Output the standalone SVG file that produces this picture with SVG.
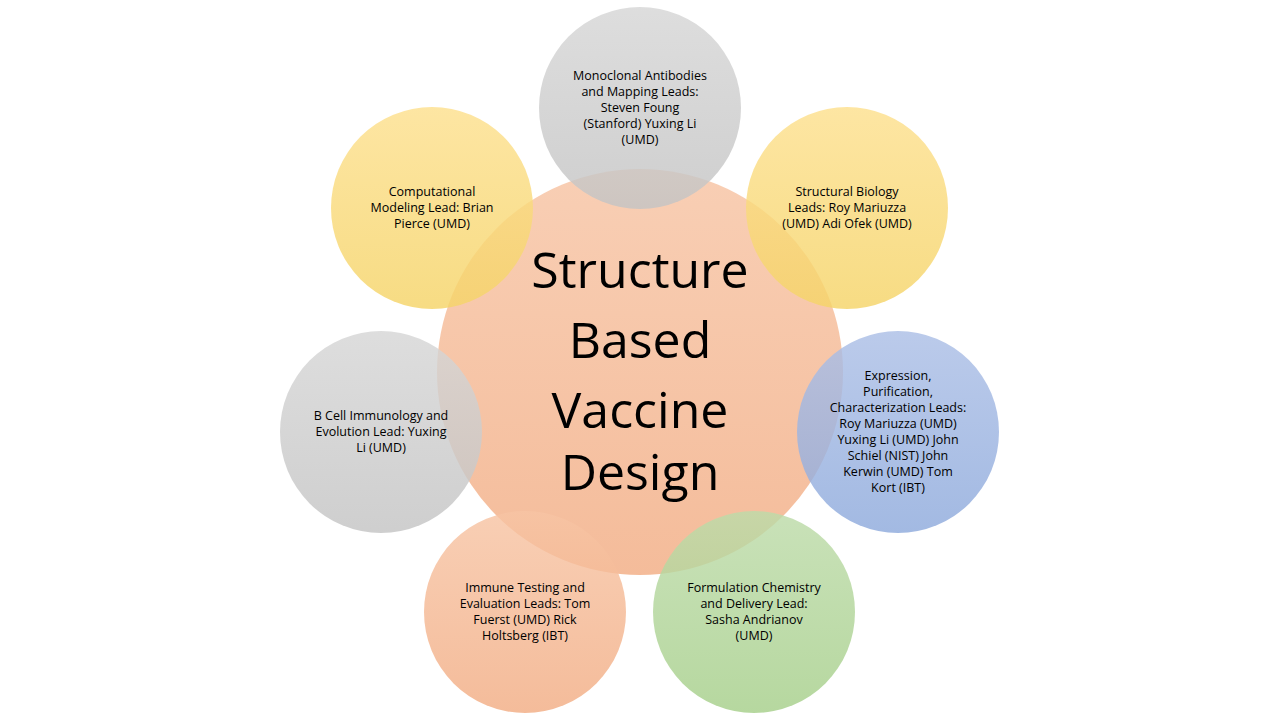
<svg xmlns="http://www.w3.org/2000/svg" width="1280" height="720" viewBox="0 0 1280 720">
<defs>
<linearGradient id="gGray" x1="0" y1="0" x2="0" y2="1"><stop offset="0" stop-color="#d6d6d6"/><stop offset="1" stop-color="#c4c4c4"/></linearGradient>
<linearGradient id="gYel" x1="0" y1="0" x2="0" y2="1"><stop offset="0" stop-color="#fde08e"/><stop offset="1" stop-color="#f5d468"/></linearGradient>
<linearGradient id="gBlue" x1="0" y1="0" x2="0" y2="1"><stop offset="0" stop-color="#acbfe6"/><stop offset="1" stop-color="#8eaadc"/></linearGradient>
<linearGradient id="gGreen" x1="0" y1="0" x2="0" y2="1"><stop offset="0" stop-color="#bddba9"/><stop offset="1" stop-color="#a6cf8a"/></linearGradient>
<linearGradient id="gOr" x1="0" y1="0" x2="0" y2="1"><stop offset="0" stop-color="#f7c4a4"/><stop offset="1" stop-color="#f2ad84"/></linearGradient>
</defs>
<style>
circle{fill-opacity:0.82}
.t{font-family:"Open Sans","Liberation Sans",sans-serif;font-size:12.5px;fill:#000;text-anchor:middle}
.c{font-family:"Open Sans","Liberation Sans",sans-serif;font-size:50px;fill:#000;text-anchor:middle}
</style>
<rect width="1280" height="720" fill="#fff"/>
<g id="center"><circle cx="640" cy="372" r="203" fill="url(#gOr)"/></g>
<g id="n1"><circle cx="640" cy="108" r="101" fill="url(#gGray)"/>
<text class="t"><tspan x="640" y="80">Monoclonal Antibodies</tspan><tspan x="640" y="96">and Mapping Leads:</tspan><tspan x="640" y="112">Steven Foung</tspan><tspan x="640" y="128">(Stanford) Yuxing Li</tspan><tspan x="640" y="144">(UMD)</tspan></text></g>
<g id="n2"><circle cx="847" cy="208" r="101" fill="url(#gYel)"/>
<text class="t"><tspan x="847" y="196">Structural Biology</tspan><tspan x="847" y="212">Leads: Roy Mariuzza</tspan><tspan x="847" y="228">(UMD) Adi Ofek (UMD)</tspan></text></g>
<g id="n3"><circle cx="898" cy="432" r="101" fill="url(#gBlue)"/>
<text class="t"><tspan x="898" y="380">Expression,</tspan><tspan x="898" y="396">Purification,</tspan><tspan x="898" y="412">Characterization Leads:</tspan><tspan x="898" y="428">Roy Mariuzza (UMD)</tspan><tspan x="898" y="444">Yuxing Li (UMD)  John</tspan><tspan x="898" y="460">Schiel (NIST) John</tspan><tspan x="898" y="476">Kerwin (UMD) Tom</tspan><tspan x="898" y="492">Kort (IBT)</tspan></text></g>
<g id="n4"><circle cx="754" cy="612" r="101" fill="url(#gGreen)"/>
<text class="t"><tspan x="754" y="592">Formulation Chemistry</tspan><tspan x="754" y="608">and Delivery Lead:</tspan><tspan x="754" y="624">Sasha Andrianov</tspan><tspan x="754" y="640">(UMD)</tspan></text></g>
<g id="n5"><circle cx="525" cy="612" r="101" fill="url(#gOr)"/>
<text class="t"><tspan x="525" y="592">Immune Testing and</tspan><tspan x="525" y="608">Evaluation Leads: Tom</tspan><tspan x="525" y="624">Fuerst (UMD) Rick</tspan><tspan x="525" y="640">Holtsberg (IBT)</tspan></text></g>
<g id="n6"><circle cx="381" cy="432" r="101" fill="url(#gGray)"/>
<text class="t"><tspan x="381" y="420">B Cell Immunology and</tspan><tspan x="381" y="436">Evolution Lead:  Yuxing</tspan><tspan x="381" y="452">Li (UMD)</tspan></text></g>
<g id="n7"><circle cx="432" cy="208" r="101" fill="url(#gYel)"/>
<text class="t"><tspan x="432" y="196">Computational</tspan><tspan x="432" y="212">Modeling Lead:  Brian</tspan><tspan x="432" y="228">Pierce (UMD)</tspan></text></g>
<g id="centerText"><text class="c"><tspan x="640" y="288">Structure</tspan><tspan x="640" y="358">Based</tspan><tspan x="640" y="428">Vaccine</tspan><tspan x="640" y="490">Design</tspan></text></g>
<g id="connectors"/>
</svg>
